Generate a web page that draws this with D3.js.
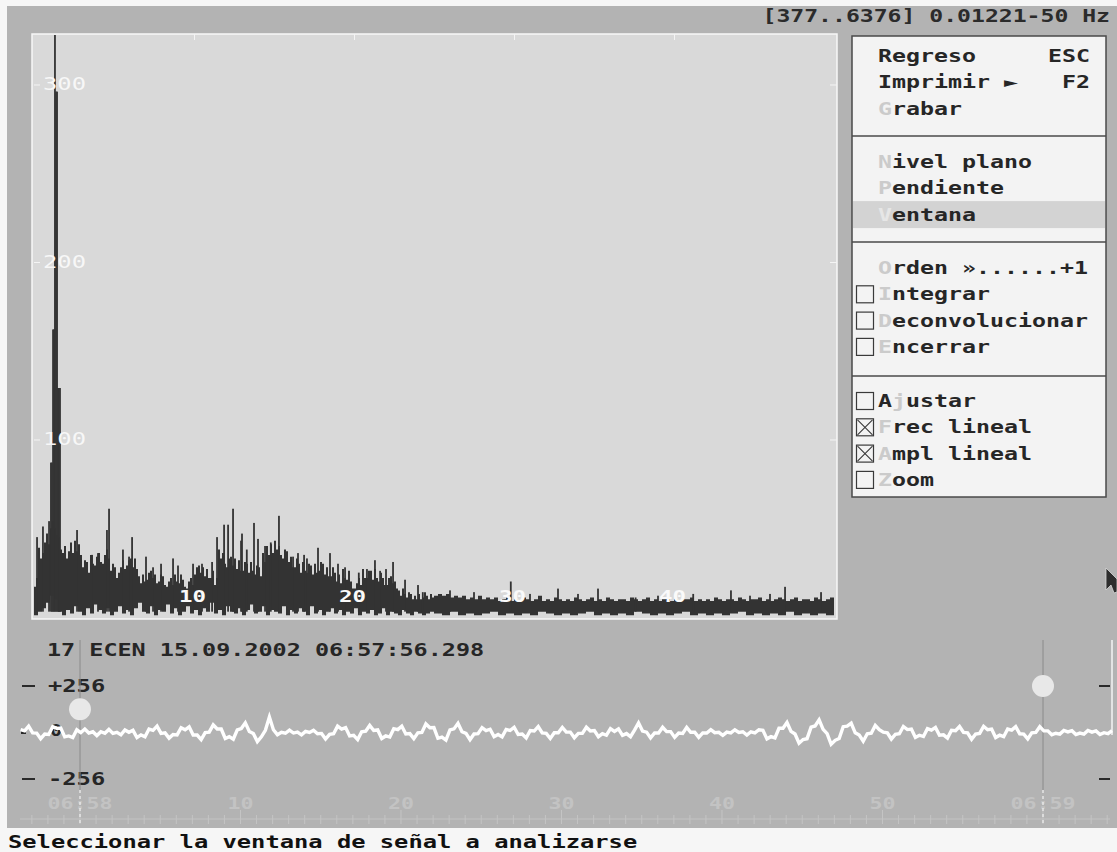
<!DOCTYPE html>
<html><head><meta charset="utf-8">
<script src="https://cdn.jsdelivr.net/npm/d3@7"></script>
<style>
html,body{margin:0;padding:0;background:#f6f6f6;overflow:hidden;}
svg{display:block;}
</style></head><body>
<svg id="chart" width="1117" height="852"></svg>
<script>
// ---------------- DATA ----------------
const titleText = "[377..6376] 0.01221-50 Hz";
const freqTicks = [10, 20, 30, 40];
const ampTicks = [100, 200, 300];
const freqMax = 50;
const freqSplit = 25;
// spectrum upper envelope 0-25 Hz, one value per 0.125 Hz
const hiStepA = 0.125;
const spectrumHiA = [
 17,22,39,33,36,42,47,41,50,54, 50,46,45,38,36,40,33,37,42,36,
 43,37,41,35,28,32,31,25,35,30, 29,34,36,31,30,35,38,33,26,30,
 28,22,25,28,32,27,29,32,33,28, 33,27,23,19,24,20,21,25,26,22,
 24,19,20,24,23,18,17,20,22,18, 24,20,19,24,21,17,16,20,22,18,
 24,28,29,25,28,23,27,22,22,26, 18,22,38,33,36,30,28,33,34,29,
 33,27,32,26,26,31,30,25,31,26, 24,29,28,23,36,31,40,35,41,36,
 43,38,40,35,33,38,37,31,34,28, 28,33,30,25,31,26,25,30,29,24,
 30,25,26,31,30,24,28,23,23,28, 25,20,24,19,27,22,21,26,20,16,
 16,19,22,18,27,22,22,26,26,21, 27,22,20,25,22,18,18,22,23,19,
 20,16,15,12,16,13,11,14,13,10, 12,10,13,10,11,14,12,10,13,11
];
// spectrum upper envelope 25-50 Hz, one value per 0.25 Hz
const hiStepB = 0.25;
const spectrumHiB = [
 12,13,12,13,11,12,11,12,10,11, 10,12,10,11,10,11,9,10,11,9,
 10,9,11,10,9,10,12,9,10,9, 11,10,9,10,9,11,10,9,10,11,
 9,10,9,11,10,9,10,10,9,11, 10,9,10,11,9,10,9,10,11,9,
 10,9,10,10,11,9,10,9,10,9, 11,10,9,10,10,9,11,10,9,10,
 10,11,9,10,9,10,11,10,9,10, 11,9,10,10,9,11,10,9,10,11
];
// spectrum lower envelope: 0-25 Hz per 0.25 Hz, 25-50 Hz per 0.5 Hz
const loStepA = 0.25;
const spectrumLoA = [
 1,3,5,8,12,10,3,1,4,2, 6,3,1,5,2,7,4,2,5,1,
 3,6,2,4,1,5,8,3,2,6, 1,4,3,7,2,5,1,3,6,2,
 4,1,5,3,8,2,4,1,6,3, 2,5,1,4,7,2,3,6,1,4,
 3,2,6,1,4,2,5,3,1,6, 2,4,1,3,5,2,4,1,3,2,
 5,1,3,2,4,1,2,5,1,3, 2,1,4,2,1,3,2,1,2,3
];
const loStepB = 0.5;
const spectrumLoB = [
 2,1,3,1,2,1,2,3,1,2, 1,2,1,3,2,1,2,1,2,3,
 1,2,1,2,1,3,2,1,2,1, 2,3,1,2,1,2,1,2,3,1,
 2,1,2,1,3,1,2,1,2,1
];
// isolated spectral lines (Hz, amplitude)
const spikeFreq = [1.06,1.125,1.19,1.25,1.31,1.375,1.44,1.5,1.56,1.625,
 0.19,0.56,0.94,2.69,3.63,4.0,4.56,4.69,5.56,5.94,6.13,7.0,7.44,7.94,8.69,9.0,9.94,10.5,11.13,11.44,11.88,12.13,12.44,
 12.94,13.0,13.3,13.75,14.0,14.44,14.8,15.31,16.19,16.5,16.88,17.06,17.75,18.5,19.0,19.44,20.3,20.81,21.31,21.63,22.0,22.44,
 23.19,24.0,24.3,26.0,27.5,29.8,31.0,32.75,34.0,35.25,37.6,39.0,41.2,43.56,44.75,46.0,46.94,49.19];
const spikeAmp = [87,87,162,162,345,296,296,129,129,129,
 45,51,54,49,35,36,49,61,38,34,45,34,28,30,33,29,30,30,31,45,52,52,61,
 43,47,38,53,44,40,42,57,34,36,35,33,39,36,30,28,25,27,32,26,27,31,
 21,18,14,15,14,20,13,16,13,16,11,12,13,15,12,13,17,14];

// seismogram
const headerText = "17 ECEN 15.09.2002 06:57:56.298";
const ampLabels = ["+256", "-256"];
const ampLevels = [256, -256];
const timeTicks = [0, 10, 20, 30, 40, 50, 60];
const timeLabels = ["06:58", "10", "20", "30", "40", "50", "06:59"];
const markerTimes = [0, 60];
const markerLevels = [128, 256];
const sigT0 = -3.7, sigDt = 0.25;
const signal = [
 16,9,35,-2,-3,-34,-9,-11,32,23,25,-24,-19,-28,15,
 -1,19,-3,4,-17,4,-4,17,-5,1,-13,14,1,
 12,-28,-13,-23,19,12,35,-5,-2,-31,-11,-13,26,15,31,-14,-14,-39,-1,2,
 42,19,19,-33,-23,-37,15,22,53,6,-5,-50,
 -24,12,85,15,-12,
 1,-4,13,-3,2,-13,6,0,12,-7,
 -5,-36,-10,-7,35,19,27,-19,-16,-39,4,7,39,11,14,-33,-19,-25,21,16,35,-8,-6,-34,-2,
 0,47,26,27,-32,-26,-42,14,20,51,4,-5,
 -40,-8,-6,27,11,18,-23,-11,-24,17,11,29,-11,-9,-30,11,8,33,-2,-5,-33,-1,-1,
 28,2,2,-29,-5,-5,29,8,11,-23,-6,-15,21,6,20,-16,-6,-23,13,53,8,2,-30,-3,-3,29,5,5,-27,-3,-5,28,1,2,-27,
 -2,-3,16,-1,1,-16,2,-2,15,0,4,-14,4,-2,15,
 12,-35,-23,-30,23,23,55,6,-8,-59,-39,-34,29,36,70,17,-6,-65,-43,-33,32,35,51,-2,-14,-48,-7,-4,39,16,
 2,-2,-36,-10,-7,33,16,19,-27,-15,-22,21,13,28,-15,-13,-31,12,10,33,
 0,-2,-37,-9,-5,34,15,19,-28,-15,-23,19,13,32,-7,-9,-35,-2,0,32,
 9,9,-12,-4,-9,11,3,10,-11,-3,-9,11,2,9,-11,-1,-6,10
];
const statusText = "Seleccionar la ventana de señal a analizarse";

// menu
const menuGroups = [
 [ {t:"Regreso", k:"ESC", hot:-1}, {t:"Imprimir ►", k:"F2", hot:-1}, {t:"Grabar", hot:0} ],
 [ {t:"Nivel plano", hot:0}, {t:"Pendiente", hot:0}, {t:"Ventana", hot:0, sel:true} ],
 [ {t:"Orden »......+1", hot:0}, {t:"Integrar", hot:0, box:0}, {t:"Deconvolucionar", hot:0, box:0}, {t:"Encerrar", hot:0, box:0} ],
 [ {t:"Ajustar", hot:1, box:0}, {t:"Frec lineal", hot:0, box:1}, {t:"Ampl lineal", hot:0, box:1}, {t:"Zoom", hot:0, box:0} ]
];

// ---------------- DRAW ----------------
const svg = d3.select('#chart');
const FONT = '"DejaVu Sans Mono", monospace';

function pixText(sel, str, x, yc, o = {}) {
  const cw = o.cw || 14, fs = o.fs || 17;
  const n = [...str].length;
  const x0 = o.end ? x - n * cw : (o.mid ? x - n * cw / 2 : x);
  const t = sel.append('text')
    .attr('x', x0).attr('y', yc + fs * 0.36)
    .attr('font-family', FONT).attr('font-weight', o.weight || 'bold')
    .attr('font-size', fs).attr('fill', o.fill || '#262626')
    .attr('textLength', n * cw).attr('lengthAdjust', 'spacingAndGlyphs');
  if (o.hot !== undefined && o.hot >= 0) {
    const chars = [...str];
    const a = chars.slice(0, o.hot).join(''), h = chars[o.hot], b = chars.slice(o.hot + 1).join('');
    if (a) t.append('tspan').text(a);
    t.append('tspan').attr('fill', o.hotFill || '#cdcdcd').text(h);
    t.append('tspan').text(b);
  } else t.text(str);
  return t;
}

// screen background
svg.append('rect').attr('width', 1117).attr('height', 852).attr('fill', '#f6f6f6');
svg.append('rect').attr('x', 7).attr('y', 6).attr('width', 1110).attr('height', 822).attr('fill', '#b3b3b3');

// title
pixText(svg, titleText, 1110, 16, {end: true, cw: 13.9, fill: '#2b2b2b'});

// -------- spectrum plot --------
const P = {l: 32, t: 34, r: 837, b: 619};
const x = d3.scaleLinear().domain([0, freqMax]).range([34, 834]);
const y = d3.scaleLinear().domain([0, 100]).range([617, 439.5]);

svg.append('rect').attr('x', P.l).attr('y', P.t).attr('width', P.r - P.l).attr('height', P.b - P.t).attr('fill', '#d9d9d9');
svg.append('clipPath').attr('id', 'pclip').append('rect')
  .attr('x', P.l + 1).attr('y', P.t + 1).attr('width', P.r - P.l - 2).attr('height', P.b - P.t - 1);

function pick(a, sa, b, sb, f) {
  return f < freqSplit ? a[Math.min(a.length - 1, Math.floor(f / sa + 1e-6))]
                       : b[Math.min(b.length - 1, Math.floor((f - freqSplit) / sb + 1e-6))];
}
const grid = d3.range(0, freqMax + 1e-9, hiStepA);
const pts = grid.map(f => ({f,
  hi: pick(spectrumHiA, hiStepA, spectrumHiB, hiStepB, f),
  lo: pick(spectrumLoA, loStepA, spectrumLoB, loStepB, f)}));

const spec = svg.append('g').attr('clip-path', 'url(#pclip)');
spec.append('path').datum(pts)
  .attr('d', d3.area().curve(d3.curveStepAfter).x(d => x(d.f)).y0(d => y(d.lo)).y1(d => y(d.hi)))
  .attr('fill', '#333333');
spec.selectAll('rect.spike').data(spikeFreq.map((f, i) => ({f, a: spikeAmp[i]})))
  .join('rect').attr('class', 'spike')
  .attr('x', d => x(d.f) - 0.9).attr('width', 1.8)
  .attr('y', d => y(d.a)).attr('height', d => y(3) - y(d.a))
  .attr('fill', '#333333');

// frame
svg.append('rect').attr('x', P.l).attr('y', P.t).attr('width', P.r - P.l).attr('height', P.b - P.t)
  .attr('fill', 'none').attr('stroke', '#f7f7f7').attr('stroke-width', 1.5);

// axes
const yAx = svg.append('g').attr('transform', `translate(${P.l + 2},0)`)
  .call(d3.axisRight(y).tickValues(ampTicks).tickSize(6).tickPadding(3));
yAx.select('.domain').remove();
yAx.selectAll('line').attr('stroke', '#f4f4f4');
yAx.selectAll('text').attr('font-family', FONT).attr('font-size', 17).attr('fill', '#f7f7f7')
  .attr('textLength', 43).attr('lengthAdjust', 'spacingAndGlyphs');

const yAxR = svg.append('g').attr('transform', `translate(${P.r},0)`)
  .call(d3.axisLeft(y).tickValues(ampTicks).tickSize(7).tickFormat(''));
yAxR.select('.domain').remove();
yAxR.selectAll('line').attr('stroke', '#f4f4f4');

const xTop = svg.append('g').attr('transform', `translate(0,${P.t})`)
  .call(d3.axisBottom(x).tickValues(freqTicks).tickSize(6).tickFormat(''));
xTop.select('.domain').remove();
xTop.selectAll('line').attr('stroke', '#f4f4f4');

const xLab = svg.append('g').attr('transform', `translate(-2,588)`)
  .call(d3.axisBottom(x).tickValues(freqTicks).tickSize(0).tickPadding(3));
xLab.select('.domain').remove();
xLab.selectAll('text').attr('font-family', FONT).attr('font-weight', 'bold').attr('font-size', 16)
  .attr('fill', '#fafafa').attr('textLength', 27).attr('lengthAdjust', 'spacingAndGlyphs');

// -------- menu panel --------
const M = {l: 852, r: 1106, t: 36, b: 497};
const menu = svg.append('g');
menu.append('rect').attr('x', M.l).attr('y', M.t).attr('width', M.r - M.l).attr('height', M.b - M.t)
  .attr('fill', '#f3f3f3').attr('stroke', '#4a4a4a').attr('stroke-width', 1.5);
const groupTops = [36, 136, 242, 376];
const firstRow = [56, 162, 268, 401];
const pitch = 26.3;
groupTops.slice(1).forEach(gy => menu.append('line').attr('x1', M.l).attr('x2', M.r).attr('y1', gy).attr('y2', gy)
  .attr('stroke', '#4a4a4a').attr('stroke-width', 1.5));
menuGroups.forEach((grp, gi) => {
  grp.forEach((it, ri) => {
    const yc = firstRow[gi] + ri * pitch;
    if (it.sel) menu.append('rect').attr('x', M.l + 1).attr('y', yc - 13.5).attr('width', M.r - M.l - 2).attr('height', 27).attr('fill', '#d3d3d3');
    if (it.box !== undefined) {
      menu.append('rect').attr('x', 856.5).attr('y', yc - 8.5).attr('width', 17).attr('height', 17)
        .attr('fill', 'none').attr('stroke', '#3a3a3a').attr('stroke-width', 1.2);
      if (it.box) {
        menu.append('path').attr('d', `M857.5,${yc - 7.5}L872.5,${yc + 7.5}M872.5,${yc - 7.5}L857.5,${yc + 7.5}`)
          .attr('stroke', '#3a3a3a').attr('stroke-width', 1.1);
      }
    }
    pixText(menu, it.t, 878, yc, {hot: it.hot, hotFill: it.sel ? '#e6e6e6' : '#cbcbcb'});
    if (it.k) pixText(menu, it.k, 1090, yc, {end: true});
  });
});

// -------- seismogram --------
const tx = d3.scaleLinear().domain([0, 60]).range([80, 1043]);
const ay = d3.scaleLinear().domain([-256, 256]).range([779, 686]);
const seis = svg.append('g');

pixText(seis, headerText, 47, 650, {cw: 14.1});

ampLevels.forEach((lv, i) => {
  seis.append('line').attr('x1', 22).attr('x2', 35).attr('y1', ay(lv)).attr('y2', ay(lv)).attr('stroke', '#2a2a2a').attr('stroke-width', 2);
  seis.append('line').attr('x1', 1099).attr('x2', 1110).attr('y1', ay(lv)).attr('y2', ay(lv)).attr('stroke', '#2a2a2a').attr('stroke-width', 2);
  pixText(seis, ampLabels[i], 48, ay(lv), {cw: 14.3});
});
seis.append('line').attr('x1', 21).attr('x2', 26).attr('y1', ay(0)).attr('y2', ay(0)).attr('stroke', '#2a2a2a').attr('stroke-width', 3);
pixText(seis, "0", 50, ay(0) - 2, {cw: 12, fs: 15});

// time ruler
const ruler = seis.append('g');
ruler.append('line').attr('x1', 20).attr('x2', 1110).attr('y1', 819).attr('y2', 819).attr('stroke', '#c3c3c3').attr('stroke-width', 1);
ruler.selectAll('line.minor').data(d3.range(-3, 65)).join('line').attr('class', 'minor')
  .attr('x1', d => tx(d)).attr('x2', d => tx(d))
  .attr('y1', d => d % 10 === 0 ? 810 : 815).attr('y2', 824)
  .attr('stroke', '#c4c4c4').attr('stroke-width', 1);
timeTicks.forEach((t, i) => pixText(seis, timeLabels[i], tx(t), 803, {mid: true, cw: 13, fs: 16, fill: '#c3c3c3'}));

markerTimes.forEach((t) => {
  seis.append('line').attr('x1', tx(t)).attr('x2', tx(t)).attr('y1', 640).attr('y2', 790).attr('stroke', '#8a8a8a').attr('stroke-width', 1);
  seis.append('line').attr('x1', tx(t)).attr('x2', tx(t)).attr('y1', 790).attr('y2', 826)
    .attr('stroke', '#f2f2f2').attr('stroke-width', 1.2).attr('stroke-dasharray', '3,3');
});
seis.append('line').attr('x1', 1112).attr('x2', 1112).attr('y1', 640).attr('y2', 735).attr('stroke', '#f4f4f4').attr('stroke-width', 1.5);

// signal
seis.append('path').datum(signal)
  .attr('d', d3.line().x((d, i) => tx(sigT0 + i * sigDt)).y(d => ay(d)))
  .attr('fill', 'none').attr('stroke', '#ffffff').attr('stroke-width', 3.4).attr('stroke-linejoin', 'miter');

markerTimes.forEach((t, i) => {
  seis.append('circle').attr('cx', tx(t)).attr('cy', ay(markerLevels[i])).attr('r', 11).attr('fill', '#e8e8e8');
});

// mouse pointer
svg.append('path').attr('d', 'M1106,568L1106,590L1111,585L1114,593L1117,592L1117,579Z')
  .attr('fill', '#2e2e2e').attr('stroke', '#d8d8d8').attr('stroke-width', 0.8);

// status bar
svg.append('rect').attr('x', 0).attr('y', 828).attr('width', 1117).attr('height', 24).attr('fill', '#f6f6f6');
pixText(svg, statusText, 8, 842, {cw: 14.3, fill: '#111111'});
</script>
</body></html>
